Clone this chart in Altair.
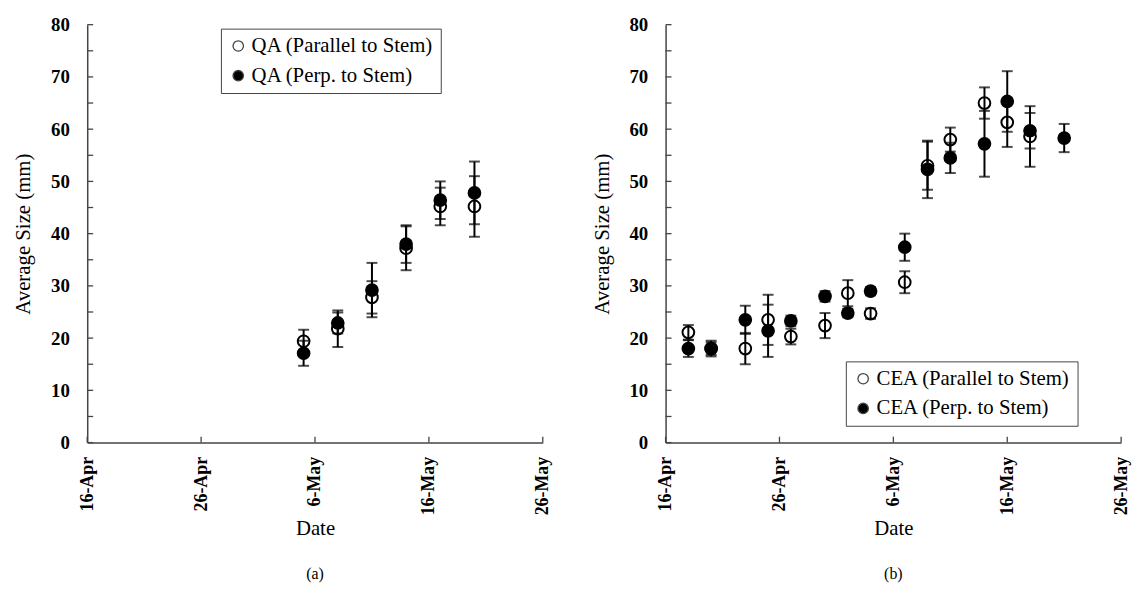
import altair as alt
import pandas as pd

# ---------------- data ----------------
QA_PAR_LABEL = "QA (Parallel to Stem)"
QA_PERP_LABEL = "QA (Perp. to Stem)"
CEA_PAR_LABEL = "CEA (Parallel to Stem)"
CEA_PERP_LABEL = "CEA (Perp. to Stem)"

qa_dates = ["2013-05-05", "2013-05-08", "2013-05-11", "2013-05-14", "2013-05-17", "2013-05-20"]
qa_par_mean = [19.4, 21.8, 27.8, 37.2, 45.2, 45.2]
qa_par_err = [2.2, 3.5, 3.1, 4.2, 3.6, 5.8]
qa_perp_mean = [17.1, 22.9, 29.2, 38.0, 46.4, 47.8]
qa_perp_err = [2.4, 2.0, 5.2, 3.6, 3.6, 6.0]

cea_par_dates = ["2013-04-18", "2013-04-20", "2013-04-23", "2013-04-25", "2013-04-27", "2013-04-30",
                 "2013-05-02", "2013-05-04", "2013-05-07", "2013-05-09", "2013-05-11", "2013-05-14",
                 "2013-05-16", "2013-05-18"]
cea_par_mean = [21.1, 18.0, 18.0, 23.5, 20.3, 22.4, 28.6, 24.7, 30.7, 53.0, 58.0, 65.0, 61.3, 58.6]
cea_par_err = [1.4, 1.2, 3.0, 4.8, 1.5, 2.4, 2.5, 1.0, 2.1, 4.6, 2.3, 3.0, 4.7, 5.8]

cea_perp_dates = ["2013-04-18", "2013-04-20", "2013-04-23", "2013-04-25", "2013-04-27", "2013-04-30",
                  "2013-05-02", "2013-05-04", "2013-05-07", "2013-05-09", "2013-05-11", "2013-05-14",
                  "2013-05-16", "2013-05-18", "2013-05-21"]
cea_perp_mean = [18.0, 18.0, 23.5, 21.4, 23.3, 28.0, 24.8, 29.0, 37.4, 52.3, 54.5, 57.2, 65.3, 59.7, 58.3]
cea_perp_err = [1.6, 1.5, 2.7, 5.0, 1.0, 1.0, 0.8, 0.8, 2.6, 5.5, 2.9, 6.3, 5.8, 3.4, 2.7]

x_tick_dates = ["2013-04-16", "2013-04-26", "2013-05-06", "2013-05-16", "2013-05-26"]
y_label_values = [0, 10, 20, 30, 40, 50, 60, 70, 80]
y_tick_values = [0, 5, 10, 15, 20, 25, 30, 35, 40, 45, 50, 55, 60, 65, 70, 75, 80]

FONT = "Liberation Serif"
AXIS_COLOR = "#444444"
W, H = 460, 422
Y_TITLE = "Average Size (mm)"


def series_frame(label, dates, means, errs):
    return pd.DataFrame({
        "series": label,
        "date": [d + "T00:00:00" for d in dates],
        "mean": means,
        "lo": [m - e for m, e in zip(means, errs)],
        "hi": [m + e for m, e in zip(means, errs)],
    })


def dt(m, d):
    return alt.DateTime(year=2013, month=m, date=d)


COMMON_AXIS = dict(ticks=False, grid=False, domainColor=AXIS_COLOR, domainWidth=1.5,
                   labelFont=FONT, labelFontWeight="bold", labelColor="black",
                   titleFont=FONT, titleFontWeight="normal", titleColor="black",
                   titleFontSize=21)


def panel(df, labels, legend_x, legend_y, caption):
    x_scale = alt.Scale(domain=[dt(4, 16), dt(5, 26)])
    y_scale = alt.Scale(domain=[0, 80], nice=False)
    x_axis = alt.Axis(values=[dt(4, 16), dt(4, 26), dt(5, 6), dt(5, 16), dt(5, 26)],
                      format="%-d-%b", labelAngle=-90, labelFontSize=18, labelPadding=14,
                      titlePadding=3, labelFlush=False, **COMMON_AXIS)
    y_axis = alt.Axis(values=y_label_values, labelFontSize=19, labelPadding=18,
                      titlePadding=17, **COMMON_AXIS)

    def X():
        return alt.X("date:T", scale=x_scale, axis=x_axis, title="Date")

    def Y(field):
        return alt.Y(field, scale=y_scale, axis=y_axis, title=Y_TITLE)

    base = alt.Chart(df)
    rules = base.mark_rule(color="black", strokeWidth=2).encode(
        x=X(), y=Y("lo:Q"), y2="hi:Q")
    cap_lo = base.mark_tick(color="black", orient="horizontal", size=11, thickness=2).encode(
        x=X(), y=Y("lo:Q"))
    cap_hi = base.mark_tick(color="black", orient="horizontal", size=11, thickness=2).encode(
        x=X(), y=Y("hi:Q"))
    points = base.mark_point(shape="circle", size=140, strokeWidth=2, color="black", opacity=1).encode(
        x=X(),
        y=Y("mean:Q"),
        fill=alt.Fill("series:N", sort=labels,
                      scale=alt.Scale(domain=labels, range=["transparent", "black"]),
                      legend=alt.Legend(orient="none", legendX=legend_x, legendY=legend_y,
                                        title=None, strokeColor=AXIS_COLOR, fillColor="white",
                                        padding=7, labelFont=FONT, labelFontSize=21,
                                        labelColor="black", symbolSize=110,
                                        symbolStrokeColor="#444444", symbolStrokeWidth=1.3,
                                        symbolType="circle", rowPadding=8, labelLimit=400,
                                        labelOffset=3)),
    )
    xt = pd.DataFrame({"date": [d + "T00:00:00" for d in x_tick_dates]})
    x_ticks = alt.Chart(xt).mark_rule(color=AXIS_COLOR, strokeWidth=1.3).encode(
        x=X(), y=alt.value(H), y2=alt.value(H - 6))
    yt = pd.DataFrame({"v": y_tick_values})
    y_ticks = alt.Chart(yt).mark_rule(color=AXIS_COLOR, strokeWidth=1.3).encode(
        y=Y("v:Q"), x=alt.value(0), x2=alt.value(6))

    return alt.layer(rules, cap_lo, cap_hi, points, x_ticks, y_ticks).properties(
        width=W, height=H,
        title=alt.TitleParams(caption, orient="bottom", anchor="middle", font=FONT,
                              fontSize=16, fontWeight="normal", color="black", offset=28),
    )


df_a = pd.concat([series_frame(QA_PAR_LABEL, qa_dates, qa_par_mean, qa_par_err),
                  series_frame(QA_PERP_LABEL, qa_dates, qa_perp_mean, qa_perp_err)])
df_b = pd.concat([series_frame(CEA_PAR_LABEL, cea_par_dates, cea_par_mean, cea_par_err),
                  series_frame(CEA_PERP_LABEL, cea_perp_dates, cea_perp_mean, cea_perp_err)])

left = panel(df_a, [QA_PAR_LABEL, QA_PERP_LABEL], 135, 4, "(a)")
right = panel(df_b, [CEA_PAR_LABEL, CEA_PERP_LABEL], 182, 340, "(b)")

chart = alt.hconcat(left, right, spacing=40).resolve_scale(fill="independent").configure(
    background="white"
).configure_view(strokeWidth=0)

chart.save("out.html", embed_options={"renderer": "svg", "actions": False})
